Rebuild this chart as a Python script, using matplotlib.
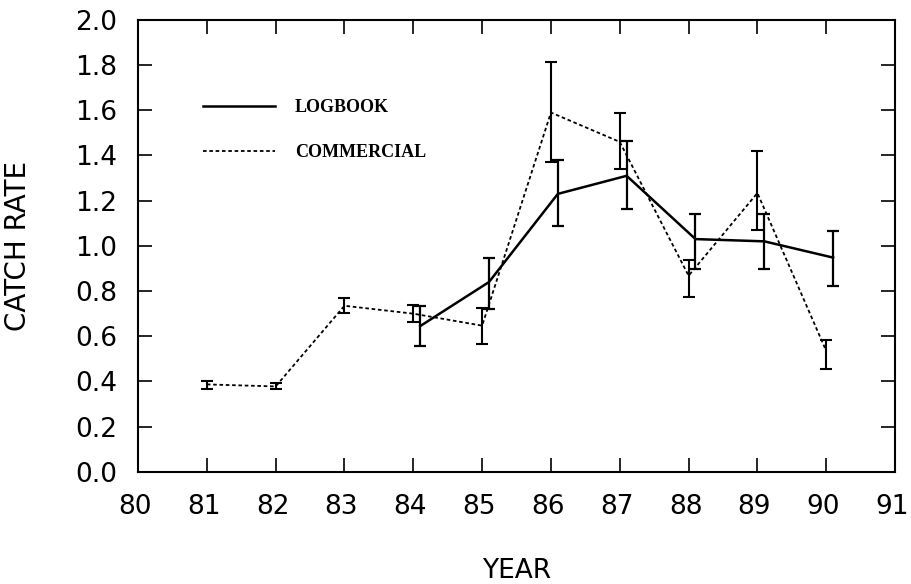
import matplotlib
matplotlib.use('Agg')
import matplotlib.pyplot as plt
from matplotlib.lines import Line2D
from matplotlib.transforms import ScaledTranslation

# Commercial series (dotted), plotted at the year
com_years = [81, 82, 83, 84, 85, 86, 87, 88, 89, 90]
com_rate = [0.387, 0.378, 0.735, 0.70, 0.647, 1.59, 1.46, 0.868, 1.234, 0.535]
com_low = [0.367, 0.365, 0.705, 0.665, 0.565, 1.37, 1.34, 0.773, 1.069, 0.455]
com_high = [0.402, 0.392, 0.770, 0.740, 0.725, 1.815, 1.59, 0.937, 1.42, 0.583]

# Logbook series (solid), plotted slightly after the year
log_years = [84.1, 85.1, 86.1, 87.1, 88.1, 89.1, 90.1]
log_rate = [0.645, 0.84, 1.23, 1.31, 1.03, 1.02, 0.948]
log_low = [0.555, 0.72, 1.09, 1.164, 0.897, 0.897, 0.824]
log_high = [0.735, 0.945, 1.38, 1.463, 1.143, 1.143, 1.066]

xticks = list(range(80, 92))
yticks = [0.0, 0.2, 0.4, 0.6, 0.8, 1.0, 1.2, 1.4, 1.6, 1.8, 2.0]

com_style = (0, (2, 1.5))

fig = plt.figure(figsize=(9.11, 5.84), dpi=100)
ax = fig.add_axes([0.1515, 0.192, 0.831, 0.774])

com_err = [[r - lo for r, lo in zip(com_rate, com_low)],
           [hi - r for r, hi in zip(com_rate, com_high)]]
log_err = [[r - lo for r, lo in zip(log_rate, log_low)],
           [hi - r for r, hi in zip(log_rate, log_high)]]

ax.errorbar(log_years, log_rate, yerr=log_err, color='black', lw=1.8,
            elinewidth=1.6, capsize=4, capthick=1.6)
ax.errorbar(com_years, com_rate, yerr=com_err, color='black', lw=1.3,
            ls=com_style, elinewidth=1.5, capsize=4, capthick=1.5)

ax.set_xlim(80, 91)
ax.set_ylim(0, 2.0)
ax.set_xticks(xticks)
ax.set_yticks(yticks)
ax.set_yticklabels([f'{v:.1f}' for v in yticks])
ax.tick_params(direction='in', length=10, width=1.2, top=True, right=True,
               labelsize=19)
ax.tick_params(axis='y', pad=15)
ax.tick_params(axis='x', pad=16)
for s in ax.spines.values():
    s.set_linewidth(1.5)

# year labels sit a little left of their ticks, as in the original
shift = ScaledTranslation(-0.03, 0, fig.dpi_scale_trans)
for lbl in ax.get_xticklabels():
    lbl.set_transform(lbl.get_transform() + shift)

ax.set_xlabel('YEAR', fontsize=19)
ax.set_ylabel('CATCH RATE', fontsize=20)
ax.xaxis.set_label_coords(0.5, -0.19)
ax.yaxis.set_label_coords(-0.14, 0.5)

handles = [Line2D([], [], color='black', lw=1.8),
           Line2D([], [], color='black', lw=1.3, ls=com_style)]
ax.legend(handles, ['LOGBOOK', 'COMMERCIAL'], loc='upper left',
          bbox_to_anchor=(0.064, 0.86), frameon=False,
          handlelength=4.0, handletextpad=1.1, labelspacing=1.55,
          prop={'family': 'Liberation Serif', 'weight': 'bold', 'size': 13})

fig.savefig('out.png', dpi=100)
